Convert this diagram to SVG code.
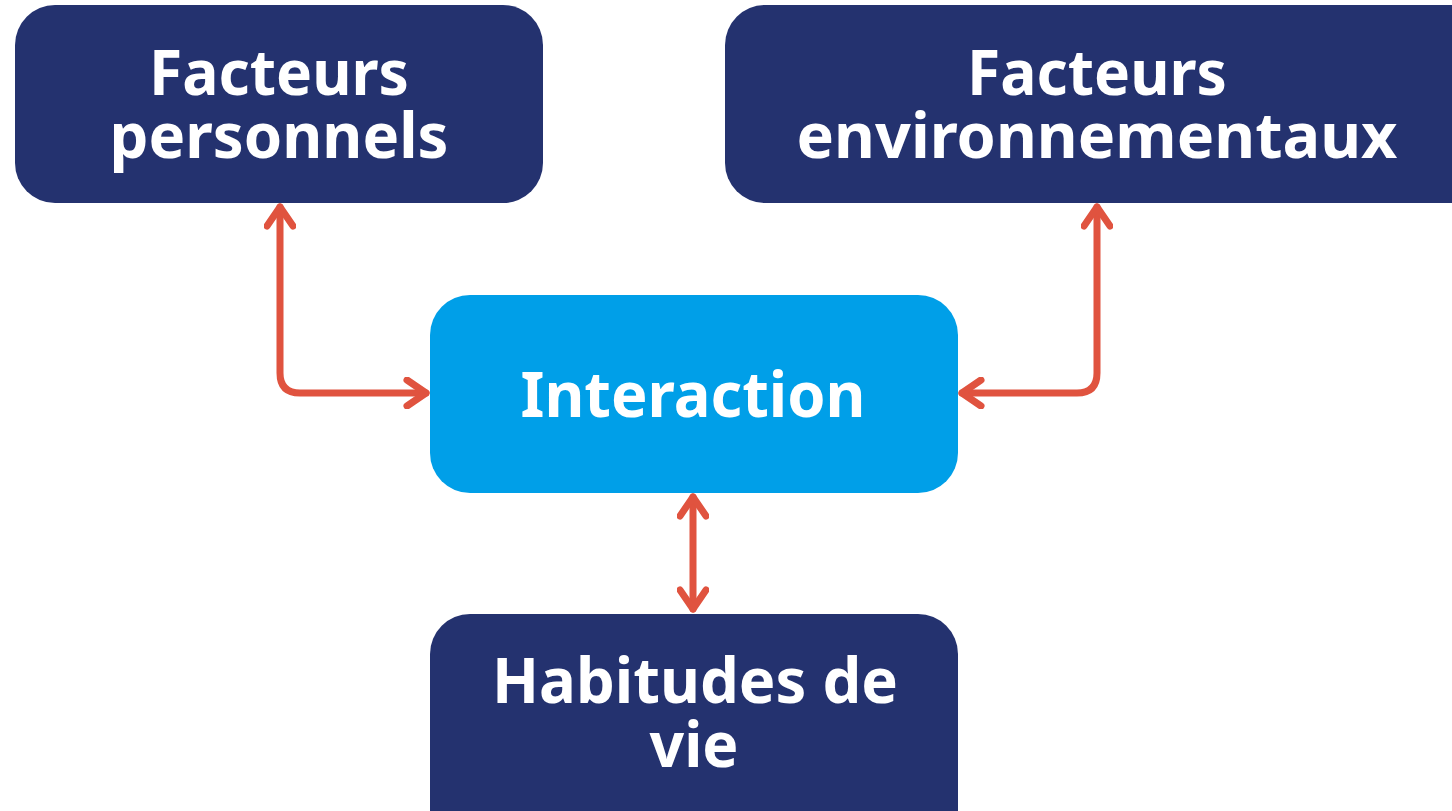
<svg xmlns="http://www.w3.org/2000/svg" width="1452" height="811" viewBox="0 0 1452 811">
  <defs>
    <style>
      .dark { fill: #24326F; }
      .light { fill: #009FE8; }
      .lbl { fill: #FFFFFF; font-family: "Noto Sans", "Liberation Sans", sans-serif; font-weight: bold; font-size: 62px; text-anchor: middle; }
      .conn { fill: none; stroke: #E0533F; stroke-width: 7; stroke-linecap: round; stroke-linejoin: round; }
    </style>
    <marker id="head" viewBox="-24 -16 28 32" refX="0" refY="0" markerWidth="28" markerHeight="32" markerUnits="userSpaceOnUse" orient="auto-start-reverse">
      <path d="M -19,-13 L 0,0 L -19,13" fill="none" stroke="#E0533F" stroke-width="7" stroke-linecap="round" stroke-linejoin="round"/>
    </marker>
  </defs>
  <rect width="1452" height="811" fill="#FFFFFF"/>

  <g id="connectors">
    <path class="conn" d="M 280,207 L 280,373 Q 280,393 300,393 L 426,393" marker-start="url(#head)" marker-end="url(#head)"/>
    <path class="conn" d="M 1097,207 L 1097,373 Q 1097,393 1077,393 L 962,393" marker-start="url(#head)" marker-end="url(#head)"/>
    <path class="conn" d="M 693,497 L 693,609" marker-start="url(#head)" marker-end="url(#head)"/>
  </g>

  <g id="node-personnels">
    <rect class="dark" x="15" y="5" width="528" height="198" rx="40"/>
    <text class="lbl" x="279" y="95" textLength="260" lengthAdjust="spacingAndGlyphs">Facteurs</text>
    <text class="lbl" x="279" y="158" textLength="339" lengthAdjust="spacingAndGlyphs">personnels</text>
  </g>

  <g id="node-environnementaux">
    <rect class="dark" x="725" y="5" width="770" height="198" rx="40"/>
    <text class="lbl" x="1097" y="95" textLength="260" lengthAdjust="spacingAndGlyphs">Facteurs</text>
    <text class="lbl" x="1097" y="158" textLength="601" lengthAdjust="spacingAndGlyphs">environnementaux</text>
  </g>

  <g id="node-interaction">
    <rect class="light" x="430" y="295" width="528" height="198" rx="40"/>
    <text class="lbl" x="693" y="417" textLength="345" lengthAdjust="spacingAndGlyphs">Interaction</text>
  </g>

  <g id="node-habitudes">
    <rect class="dark" x="430" y="614" width="528" height="240" rx="40"/>
    <text class="lbl" x="695" y="703" textLength="406" lengthAdjust="spacingAndGlyphs">Habitudes de</text>
    <text class="lbl" x="694" y="767" textLength="89" lengthAdjust="spacingAndGlyphs">vie</text>
  </g>
</svg>
